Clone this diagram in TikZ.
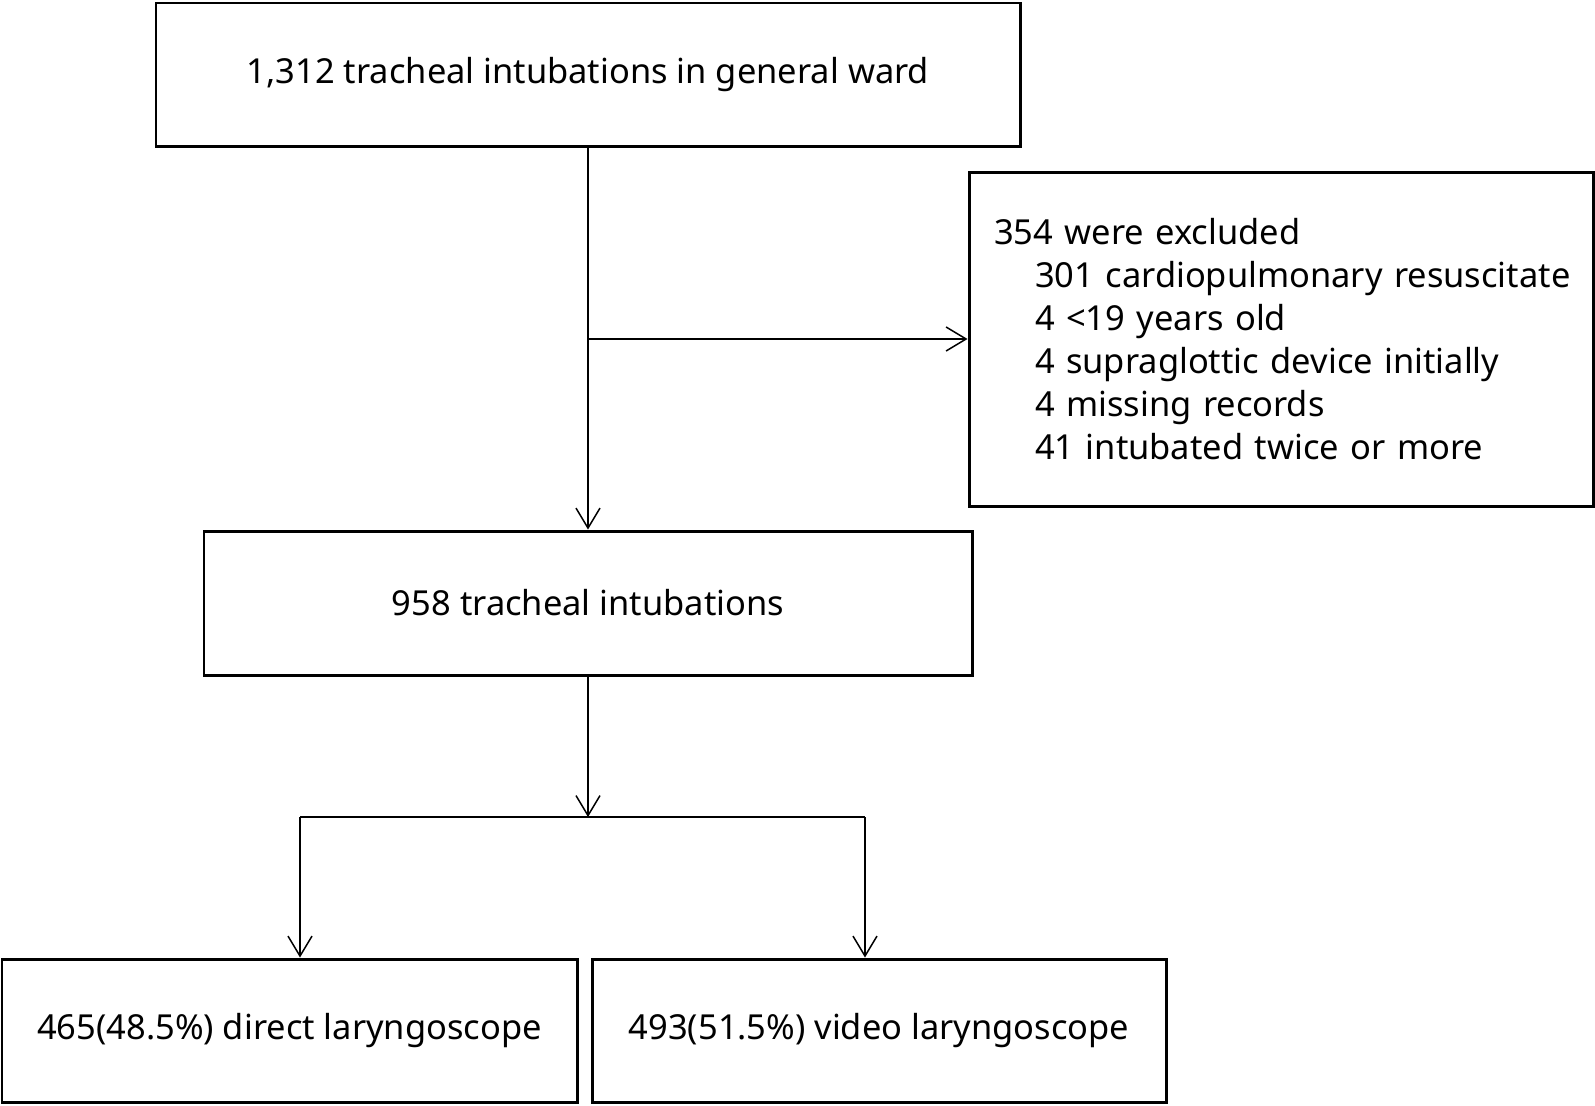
\documentclass[tikz,border=0pt]{standalone}
\usepackage{fontspec}
\setmainfont{Noto Sans}
\usetikzlibrary{arrows.meta}

\begin{document}
\begin{tikzpicture}[
    box/.style={draw, line width=1.7pt, inner sep=0pt, font=\fontsize{19.6}{24.4}\selectfont},
    link/.style={line width=0.85pt, -{Straight Barb[length=0.4cm, width=0.48cm]}}
  ]
  \useasboundingbox (0,0) rectangle (31.9,-22.1);
  % boxes
  \node[box, minimum width=17.28cm, minimum height=2.86cm] (all) at (11.76,-1.49) {1,312 tracheal intubations in general ward};
  \node[box, minimum width=12.48cm, minimum height=6.68cm, inner xsep=0.24cm, text width=12.0cm, align=left] (excl) at (25.62,-6.78)
    {\hspace*{0.26cm}354 were excluded\\
     \hspace*{1.08cm}301 cardiopulmonary resuscitate\\
     \hspace*{1.08cm}4 <19 years old\\
     \hspace*{1.08cm}4 supraglottic device initially\\
     \hspace*{1.08cm}4 missing records\\
     \hspace*{1.08cm}41 intubated twice or more};
  \node[box, minimum width=15.36cm, minimum height=2.88cm] (kept) at (11.76,-12.06) {958 tracheal intubations};
  \node[box, minimum width=11.5cm, minimum height=2.86cm] (dl) at (5.79,-20.61) {465(48.5\%) direct laryngoscope};
  \node[box, minimum width=11.48cm, minimum height=2.86cm] (vl) at (17.58,-20.61) {493(51.5\%) video laryngoscope};
  % connectors
  \coordinate (fork) at (all.south |- excl.west);
  \coordinate (split) at (11.76,-16.34);
  \coordinate (splitl) at (6.0,-16.34);
  \coordinate (splitr) at (17.3,-16.34);
  \draw[link] (all.south) -- (kept.north);
  \draw[link] (fork) -- (excl.west);
  \draw[link] (kept.south) -- (split);
  \draw[line width=0.85pt] (splitl) -- (splitr);
  \draw[link] (splitl) -- (splitl |- dl.north);
  \draw[link] (splitr) -- (splitr |- vl.north);
\end{tikzpicture}
\end{document}
